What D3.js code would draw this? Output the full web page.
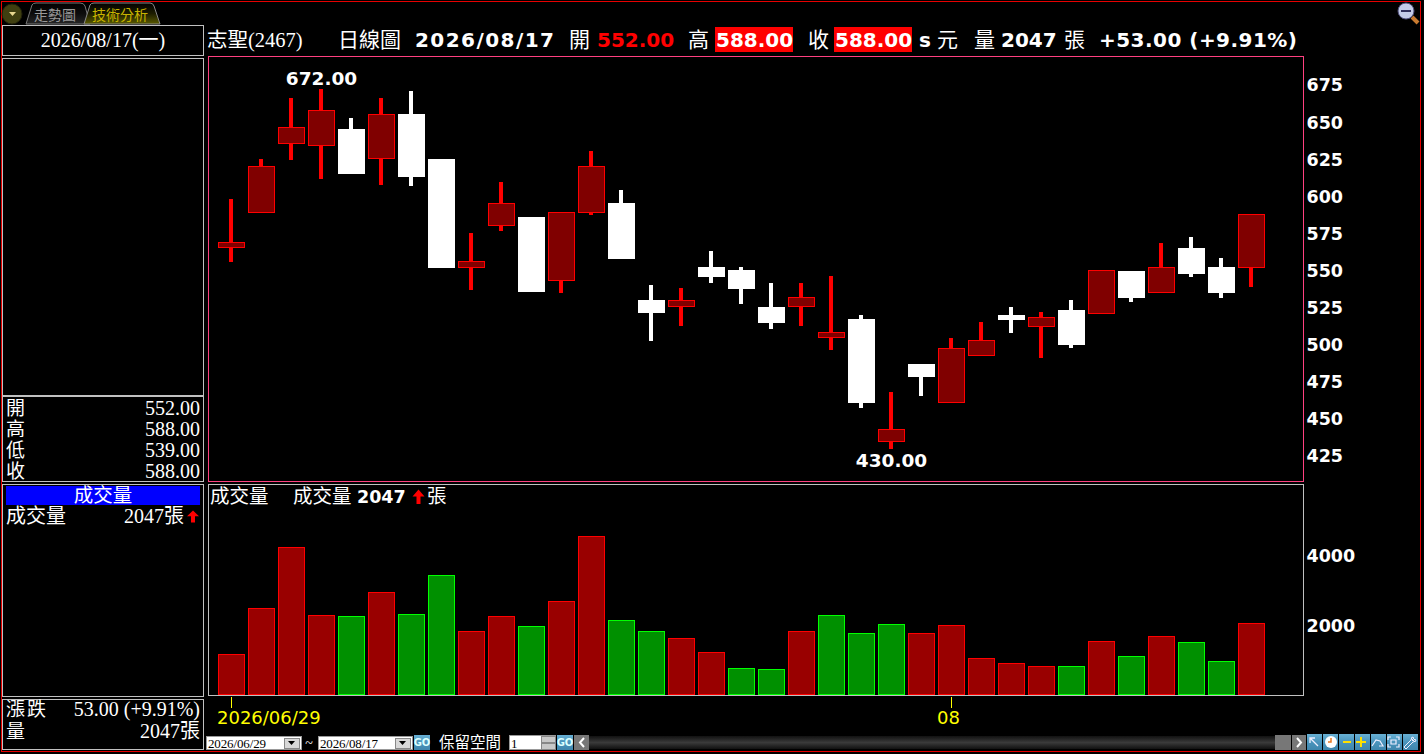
<!DOCTYPE html>
<html lang="zh-Hant">
<head>
<meta charset="UTF-8">
<title>志聖(2467) 日線圖</title>
<style>
  html, body { margin: 0; background: #000; overflow: hidden; }
  svg { display: block; }
  text { white-space: pre; }
  .cjk, .num { font-family: "Liberation Serif", "Noto Sans CJK TC", serif; }
  .bold { font-family: "DejaVu Sans", sans-serif; font-weight: bold; }
  .crisp { shape-rendering: crispEdges; }
</style>
<script src="https://d3js.org/d3.v7.min.js"></script>
</head>
<body>
<script>
// values
var opens  = [565,589,635,634,645.4,625,655.5,625,552,580,586,543,589,595.5,530,525.4,552.4,550.3,525.4,525.4,504.5,517.3,434.4,487,461,492.6,520,512,523.4,521,549.7,535,565.2,552.4,552];
var closes = [569,620.3,646.5,658,615,655.4,613,552,556.4,595.3,535.5,589.3,620.3,558,521.4,530,545.6,537.5,514.6,532,508.6,460.7,443,478,497.8,503,516.6,519,499.8,550.3,531.5,552.3,547.6,535,588];
var highs  = [598,625,666,672,652.8,666,671,625,575.3,609.6,586,589.3,630.5,604,540,538,563,552.4,541.6,541.6,546,520,468,487,504.5,515.3,525.4,522,530,550.3,549.7,568.5,572.6,558.4,588];
var lows   = [555.7,589,624.5,611.7,615,607.6,607,552,536.9,576.6,535.5,534.8,587.4,558,502.5,512.6,541.6,527.4,510.6,512.6,496.4,457.3,430,465.4,461,492.6,507.9,491,497.8,521,528.8,535,545.6,531.5,539];
var volumes = [1163,2477,4220,2277,2249,2934,2306,3420,1820,2249,1963,2677,4534,2134,1820,1620,1220,763,734,1820,2277,1763,2020,1763,1991,1049,906,820,820,1534,1106,1677,1506,963,2047];
var priceTicks = [425,450,475,500,525,550,575,600,625,650,675];
var volumeTicks = [2000,4000];
var dateTickIndex = [0,24];
var dateTickLabels = ["2026/06/29","08"];
var quoteLabels = ["開","高","低","收"];
var quoteValues = ["552.00","588.00","539.00","588.00"];

var svg = d3.select("body").append("svg").attr("width",1424).attr("height",754);
var defs = svg.append("defs");

function grad(id, stops) {
  var g = defs.append("linearGradient").attr("id",id).attr("x1",0).attr("y1",0).attr("x2",0).attr("y2",1);
  stops.forEach(function(s,i){ g.append("stop").attr("offset",i/(stops.length-1)).attr("stop-color",s); });
}
grad("tabOn",["#000000","#1c1c00","#5a5a00"]);
grad("tabOff",["#000000","#0c0c0c","#262626"]);
grad("tile",["#68b0d4","#4a94bc","#3f86ad"]);
grad("track",["#111111","#3a3a3a","#111111"]);

function txt(s, x, y, size, fill, cls, anchor) {
  return svg.append("text").attr("x",x).attr("y",y).attr("class",cls)
    .attr("font-size",size).attr("fill",fill).attr("text-anchor",anchor||"start").text(s);
}
function box(x, y, w, h, stroke, fill) {
  return svg.append("rect").attr("class","crisp").attr("x",x).attr("y",y).attr("width",w).attr("height",h)
    .attr("stroke",stroke||"none").attr("fill",fill||"none");
}
function upArrow(cx, top, h) {
  var a = 6, head = h*0.48;
  svg.append("path").attr("fill","#ff0000")
    .attr("d","M"+cx+" "+top+"L"+(cx+a)+" "+(top+head)+"H"+(cx+2)+"V"+(top+h)+"H"+(cx-2)+"V"+(top+head)+"H"+(cx-a)+"Z");
}

// outer frame
box(1.5,1.5,1419,750,"#e60000");

// ---- tabs ----
svg.append("circle").attr("cx",12).attr("cy",14).attr("r",10).attr("fill","#3f3f10").attr("stroke","#20200a");
svg.append("path").attr("d","M9 12h7l-3.5 4z").attr("fill","#e8d890");
svg.append("path").attr("d","M26 24L32 5Q33 3 36 3H80Q84 3 85 6L90 24Z").attr("fill","url(#tabOff)").attr("stroke","#777");
svg.append("path").attr("d","M84 24L90 5Q91 3 94 3H150Q153 3 154 6L160 24Z").attr("fill","url(#tabOn)").attr("stroke","#888");
txt("走勢圖",34,20,14,"#999999","cjk");
txt("技術分析",92,20,14,"#c8b400","cjk");

// magnifier
svg.append("line").attr("x1",1412).attr("y1",17).attr("x2",1418).attr("y2",23).attr("stroke","#c87a30").attr("stroke-width",4);
svg.append("circle").attr("cx",1406).attr("cy",11).attr("r",8).attr("fill","#c4cce8").attr("stroke","#50507c");
svg.append("rect").attr("x",1401).attr("y",10).attr("width",10).attr("height",2).attr("fill","#30305c");

// ---- left panel ----
box(2.5,25.5,201,30,"#c0c0c0");
txt("2026/08/17(一)",103,47,20,"#fff","num","middle");
box(2.5,58.5,201,423,"#c0c0c0");
box(3,395,200,2,null,"#c0c0c0");
quoteLabels.forEach(function(lab,i){
  txt(lab,6,415+i*21,19,"#fff","cjk");
  txt(quoteValues[i],200,415+i*21,20,"#fff","num","end");
});
box(2.5,484.5,201,212,"#c0c0c0");
box(6,486,194,19,null,"#0000ff");
txt("成交量",103,502,19.5,"#fff","cjk","middle");
txt("成交量",6,523,20,"#fff","cjk");
txt("2047張",184,523,20,"#fff","num","end");
upArrow(193,510.5,12);
box(2.5,699.5,201,50,"#c0c0c0");
txt("漲跌",6,716,19,"#fff","cjk").attr("textLength",40);
txt("53.00 (+9.91%)",200,716,20,"#fff","num","end");
txt("量",6,738,19,"#fff","cjk");
txt("2047張",200,738,20,"#fff","num","end");

// ---- header ----
txt("志聖(2467)",207,47,20.5,"#fff","num");
txt("日線圖",338,47,21,"#fff","cjk");
txt("2026/08/17",415,47,20,"#fff","bold").attr("textLength",139);
txt("開",569,47,21,"#fff","cjk");
txt("552.00",597,47,20,"#ff0000","bold");
txt("高",688,47,21,"#fff","cjk");
box(715,27,78,25,null,"#ff0000");
txt("588.00",716,47,20,"#fff","bold");
txt("收",808,47,21,"#fff","cjk");
box(834,27,78,25,null,"#ff0000");
txt("588.00",835,47,20,"#fff","bold");
txt("s",919,47,20,"#fff","bold");
txt("元",937,47,21,"#fff","cjk");
txt("量",974,47,21,"#fff","cjk");
txt("2047",1001,47,20,"#fff","bold");
txt("張",1064,47,21,"#fff","cjk");
txt("+53.00 (+9.91%)",1099,47,20,"#fff","bold").attr("textLength",198);

// ---- scales ----
var x = d3.scaleBand().domain(d3.range(closes.length)).range([216.5,1266.5]).paddingInner(0.1).paddingOuter(0.05);
var y = d3.scaleLinear().domain([425,675]).range([456,85]);
var yVol = d3.scaleLinear().domain([0,4000]).range([695,555]);

// ---- price panel ----
box(208.5,56.5,1095,425,"#ff4080");

var candles = svg.append("g").selectAll("g").data(d3.range(closes.length)).enter().append("g").attr("class","crisp");

candles.append("rect")
  .attr("x",function(i){ return x(i)+11; })
  .attr("width",4)
  .attr("y",function(i){ return Math.round(y(highs[i])); })
  .attr("height",function(i){ return Math.round(y(lows[i]))-Math.round(y(highs[i])); })
  .attr("fill",function(i){ return closes[i]>=opens[i] ? "#ff0000" : "#ffffff"; });

candles.append("rect")
  .attr("x",function(i){ return closes[i]>=opens[i] ? x(i)+0.5 : x(i); })
  .attr("width",function(i){ return closes[i]>=opens[i] ? x.bandwidth()-1 : x.bandwidth(); })
  .attr("y",function(i){ var t=Math.round(y(Math.max(opens[i],closes[i]))); return closes[i]>=opens[i] ? t+0.5 : t; })
  .attr("height",function(i){
    var h=Math.round(y(Math.min(opens[i],closes[i])))-Math.round(y(Math.max(opens[i],closes[i])));
    return closes[i]>=opens[i] ? h-1 : h;
  })
  .attr("fill",function(i){ return closes[i]>=opens[i] ? "#800000" : "#ffffff"; })
  .attr("stroke",function(i){ return closes[i]>=opens[i] ? "#ff0000" : "none"; });

// highest and lowest price labels
var iHigh = d3.maxIndex(highs), iLow = d3.minIndex(lows);
txt(d3.format(".2f")(highs[iHigh]),x(iHigh)+x.bandwidth()/2,y(highs[iHigh])-4,18.5,"#fff","bold","middle");
txt(d3.format(".2f")(lows[iLow]),x(iLow)+x.bandwidth()/2,y(lows[iLow])+18,18.5,"#fff","bold","middle");

var axisPrice = d3.axisRight(y).tickValues(priceTicks).tickSize(0).tickPadding(3);
var gPrice = svg.append("g").attr("transform","translate(1303.5,0)").call(axisPrice);
gPrice.select(".domain").remove();
gPrice.selectAll("text").attr("class","bold").attr("font-size",17.5).attr("fill","#fff").attr("dy","0.34em");

// ---- volume panel ----
box(208.5,484.5,1095,211,"#c0c0c0");

svg.append("g").selectAll("rect").data(d3.range(volumes.length)).enter().append("rect")
  .attr("class","crisp")
  .attr("x",function(i){ return x(i)+0.5; })
  .attr("width",x.bandwidth()-1)
  .attr("y",function(i){ return Math.round(yVol(volumes[i]))+0.5; })
  .attr("height",function(i){ return yVol(0)-Math.round(yVol(volumes[i]))-1; })
  .attr("fill",function(i){ return (i==0 || closes[i]>=closes[i-1]) ? "#990000" : "#009000"; })
  .attr("stroke",function(i){ return (i==0 || closes[i]>=closes[i-1]) ? "#ff0000" : "#00ff00"; });

var axisVol = d3.axisRight(yVol).tickValues(volumeTicks).tickSize(0).tickPadding(3).tickFormat(d3.format("d"));
var gVol = svg.append("g").attr("transform","translate(1303.5,0.5)").call(axisVol);
gVol.select(".domain").remove();
gVol.selectAll("text").attr("class","bold").attr("font-size",17.5).attr("fill","#fff");

txt("成交量",210,503,19.5,"#fff","cjk");
txt("成交量",293,503,19.5,"#fff","cjk");
txt("2047",357,503,17.5,"#fff","bold");
upArrow(418.5,489.5,14.5);
txt("張",427,503,19.5,"#fff","cjk");

// ---- date axis ----
var axisDate = d3.axisBottom(x).tickValues(dateTickIndex).tickSize(11).tickPadding(3)
  .tickFormat(function(i){ return dateTickLabels[dateTickIndex.indexOf(i)]; });
var gDate = svg.append("g").attr("transform","translate(0,697)").call(axisDate);
gDate.select(".domain").remove();
gDate.selectAll("line").attr("stroke","#ffff00").attr("class","crisp");
gDate.selectAll("text").attr("font-family","DejaVu Sans").attr("font-size",18).attr("fill","#ffff00")
  .attr("text-anchor","start").attr("x",-14.5);

// ---- bottom controls ----
function combo(x0, w, s) {
  box(x0+0.5,736.5,w,13,"#999","#fff");
  txt(s,x0+2,748,13,"#000","num").attr("textLength",58);
  box(x0+w-17,738,15,10,"#888","#d8d8d8");
  svg.append("path").attr("d","M"+(x0+w-13)+" 741h7l-3.5 4z").attr("fill","#000");
}
function goButton(x0) {
  box(x0,735,16,15,null,"url(#tile)");
  txt("GO",x0+8,746,10,"#dff","bold","middle");
}
combo(206,95,"2026/06/29");
txt("~",309,748,14,"#fff","num","middle");
combo(318,94,"2026/08/17");
goButton(414);
txt("保留空間",439,748,15.5,"#fff","cjk");
box(509.5,735.5,46,14,"#999","#fff");
txt("1",511,748,13,"#000","num");
box(541,736,14,6,"#888","#c8c8c8");
box(541,743,14,6,"#888","#c8c8c8");
goButton(557);

box(574,735,15,15,null,"#777");
svg.append("path").attr("d","M584 738l-4 4.5 4 4.5").attr("fill","none").attr("stroke","#fff").attr("stroke-width",2);
box(589,736,686,13,null,"url(#track)");
box(1275,735,16,15,null,"#777");
box(1292,735,14,15,null,"#777");
svg.append("path").attr("d","M1297 738l4 4.5-4 4.5").attr("fill","none").attr("stroke","#fff").attr("stroke-width",2);

// toolbar tiles
var tiles = d3.range(7);
svg.append("g").selectAll("rect").data(tiles).enter().append("rect")
  .attr("x",function(d){ return 1307+d*16; }).attr("y",734).attr("width",15).attr("height",16)
  .attr("fill","url(#tile)");
function icon(d, c, w) {
  svg.append("path").attr("d",d).attr("fill","none").attr("stroke",c).attr("stroke-width",w);
}
icon("M1318 746l-8-8m0 5v-5h5","#eef",1.3);
svg.append("circle").attr("cx",1331).attr("cy",742).attr("r",6).attr("fill","#fff");
icon("M1331 738v4h-3","#e87820",1.5);
icon("M1343 742h8","#ffe000",2);
icon("M1356 742h10M1361 737v10","#ffe000",2);
icon("M1372 746l4-6 4 1 3 5h-4","#eef",1.2);
icon("M1388 740v-3h3M1396 737h3v3M1399 744v3h-3M1391 747h-3v-3M1391 740h5v4h-5z","#eef",1.2);
icon("M1404 747l7-7 1-3 2 1-2 2 1 1 2-2 1 2-3 1-7 7z","#eef",1);
</script>
</body>
</html>
